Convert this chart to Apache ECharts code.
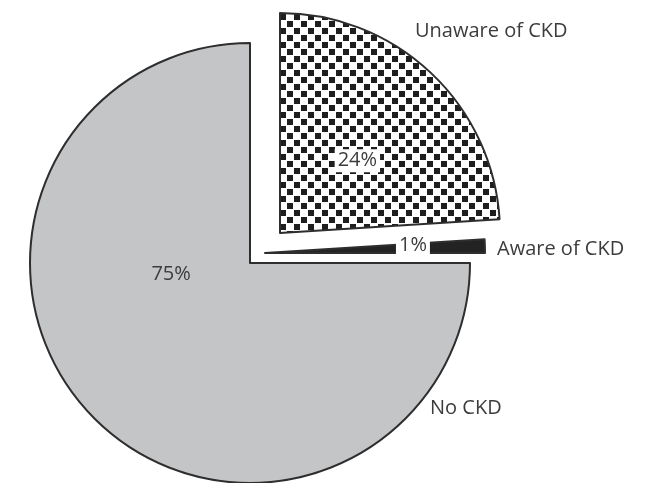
<!DOCTYPE html>
<html>
<head>
<meta charset="utf-8">
<script src="https://cdn.jsdelivr.net/npm/echarts@6/dist/echarts.min.js"></script>
<style>
  html, body { margin: 0; padding: 0; background: #ffffff; }
  #chart { width: 646px; height: 483px; }
</style>
</head>
<body>
<div id="chart"></div>
<script>
// CKD awareness among participants
const categories = ['Unaware of CKD', 'Aware of CKD', 'No CKD'];
const shares = [24, 1, 75];

// Checkerboard tile used for the "Unaware" slice
function checkerPattern() {
  const size = 14, half = 7;
  const c = document.createElement('canvas');
  c.width = size; c.height = size;
  const g = c.getContext('2d');
  g.fillStyle = '#ffffff';
  g.fillRect(0, 0, size, size);
  g.fillStyle = '#1e1e1e';
  g.fillRect(0, 0, half - 1, half - 1);
  g.fillRect(half, half, half - 1, half - 1);
  return c;
}

const TEXT = '#3c3c3c';
const FONT = 'Open Sans';
const FONT_SIZE = 20;
const EDGE = '#2e2e2e';
const R = 220;

// Each slice is its own pie (same data) so it can be pulled out by its own amount.
const sliceLook = [
  { center: [280, 233], fill: { image: checkerPattern(), repeat: 'repeat' }, shift: { dx: 0, dy: 10 }, boxed: true },
  { center: [265, 253], fill: '#232323', shift: { dx: 35, dy: -4 }, boxed: true },
  { center: [250, 263], fill: '#c4c5c7', shift: { dx: 1, dy: -69 }, boxed: false }
];

// Anchor points for the category names next to the pie
const nameAnchors = [[415, 31], [497, 249], [430, 408]];

function sliceSeries(idx) {
  const look = sliceLook[idx];
  return {
    type: 'pie',
    silent: true,
    animation: false,
    startAngle: 90,
    clockwise: true,
    center: look.center,
    radius: [0, R],
    z: idx === 2 ? 1 : 2,
    label: {
      show: true,
      position: 'inside',
      color: TEXT,
      fontFamily: FONT,
      fontSize: FONT_SIZE,
      overflow: 'none',
      formatter: p => Math.round(p.percent) + '%'
    },
    labelLine: { show: false },
    labelLayout: () => look.shift,
    data: categories.map((name, i) => ({
      name,
      value: shares[i],
      itemStyle: i === idx
        ? { color: look.fill, borderColor: EDGE, borderWidth: 2 }
        : { color: 'rgba(0,0,0,0)', borderWidth: 0 },
      label: i === idx
        ? (look.boxed ? { show: true, backgroundColor: '#ffffff', padding: [2, 3, 1, 3] } : { show: true })
        : { show: false }
    }))
  };
}

const nameSeries = {
  type: 'pie',
  silent: true,
  animation: false,
  startAngle: 90,
  center: [250, 263],
  radius: [0, R],
  z: 0,
  itemStyle: { color: 'rgba(0,0,0,0)', borderWidth: 0 },
  label: {
    show: true,
    position: 'outside',
    color: TEXT,
    fontFamily: FONT,
    fontSize: FONT_SIZE,
    overflow: 'none',
    formatter: '{b}'
  },
  labelLine: { show: false },
  labelLayout: p => ({
    x: nameAnchors[p.dataIndex][0],
    y: nameAnchors[p.dataIndex][1],
    align: 'left',
    verticalAlign: 'middle'
  }),
  data: categories.map((name, i) => ({ name, value: shares[i] }))
};

const chart = echarts.init(document.getElementById('chart'), null, { renderer: 'canvas' });
chart.setOption({
  backgroundColor: '#ffffff',
  animation: false,
  series: [sliceSeries(2), sliceSeries(0), sliceSeries(1), nameSeries]
});
</script>
</body>
</html>
